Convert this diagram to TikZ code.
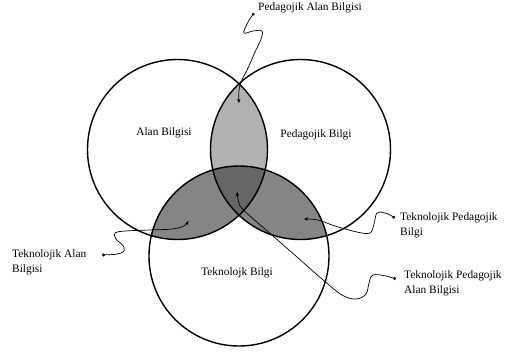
\documentclass[tikz,border=0pt]{standalone}
\usepackage{fontspec}
\setmainfont{Liberation Serif}
\usetikzlibrary{arrows.meta}
\definecolor{lensgray}{gray}{0.70}
\definecolor{sidegray}{gray}{0.52}
\definecolor{coregray}{gray}{0.40}
\tikzset{my circle/.style={line width=1.2pt},
my label/.style={font=\fontsize{9.7}{12.8}\selectfont,inner sep=0pt,align=left},
my wire/.style={line width=0.6pt,{Circle[length=2.6pt]}-{Stealth[length=3.5pt,width=3pt]}}}

\begin{document}
\begin{tikzpicture}[x=0.03cm,y=-0.03cm]
\useasboundingbox (0,0) rectangle (506,354);
\coordinate (A) at (177.5,149.5);
\coordinate (P) at (300.5,149.5);
\coordinate (T) at (239,256);
% shaded overlaps
\begin{scope}
\clip (A) circle[radius=2.7cm];
\fill[lensgray] (P) circle[radius=2.7cm];
\fill[sidegray] (T) circle[radius=2.7cm];
\end{scope}
\begin{scope}
\clip (P) circle[radius=2.7cm];
\fill[sidegray] (T) circle[radius=2.7cm];
\end{scope}
\begin{scope}
\clip (A) circle[radius=2.7cm];
\clip (P) circle[radius=2.7cm];
\fill[coregray] (T) circle[radius=2.7cm];
\end{scope}
\draw[my circle] (A) circle[radius=2.7cm];
\draw[my circle] (P) circle[radius=2.7cm];
\draw[my circle] (T) circle[radius=2.7cm];
% circle labels
\node[my label] (ab) at (164,133) {Alan Bilgisi};
\node[my label] (pb) at (316,135) {Pedagojik Bilgi};
\node[my label] (tb) at (237,273) {Teknolojk Bilgi};
% pointers
\coordinate (pakDot) at (254,13);
\coordinate (pakEnd) at (239,103);
\coordinate (takDot) at (102,255);
\coordinate (takEnd) at (188,221);
\coordinate (tpbDot) at (395,218);
\coordinate (tpbEnd) at (304,219);
\coordinate (tpakDot) at (396,279);
\coordinate (tpakEnd) at (237,192);
\node[my label,anchor=west] (pak) at (258,8) {Pedagojik Alan Bilgisi};
\node[my label,anchor=north west] (tak) at (12,249) {Teknolojik Alan\\Bilgisi};
\node[my label,anchor=north west] (tpb) at (400,212) {Teknolojik Pedagojik\\Bilgi};
\node[my label,anchor=north west] (tpak) at (404,270) {Teknolojik Pedagojik\\Alan Bilgisi};
\draw[my wire] plot[smooth,tension=0.6] coordinates {(pakDot) (247,24) (244,33) (253,31) (262,31) (261,39) (255,52) (248,68) (242,80) (239,90) (pakEnd)};
\draw[my wire] plot[smooth,tension=0.6] coordinates {(takDot) (121,253) (124,247) (116,239) (115,233) (125,231) (150,230) (172,229) (184,226) (takEnd)};
\draw[my wire] plot[smooth,tension=0.6] coordinates {(tpbDot) (385,213) (377,213) (374,224) (370,233) (357,232) (335,226) (318,220) (tpbEnd)};
\draw[my wire] plot[smooth,tension=0.6] coordinates {(tpakDot) (386,276) (373,275) (369,283) (366,294) (356,299) (342,295) (322,279) (297,257) (273,236) (250,216) (240,206) (tpakEnd)};
\end{tikzpicture}
\end{document}
